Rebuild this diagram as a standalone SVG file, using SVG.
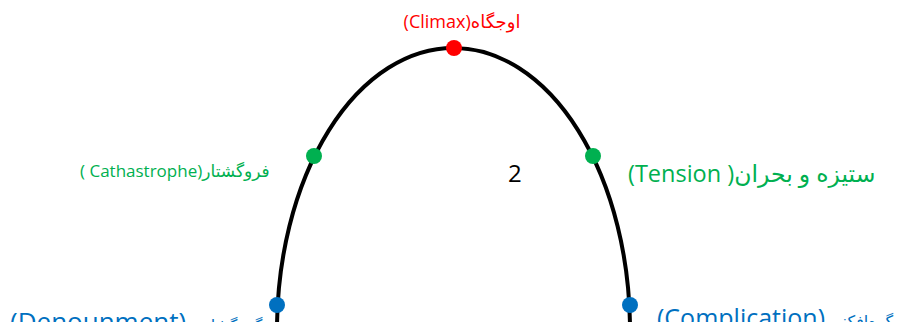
<svg xmlns="http://www.w3.org/2000/svg" width="905" height="322" viewBox="0 0 905 322">
<style>
text{font-family:"Open Sans","DejaVu Sans",sans-serif}
.g{fill:#00B050}.r{fill:#FF0000}.b{fill:#0070C0}
.curve{fill:none;stroke:#000;stroke-width:4}
</style>
<rect width="905" height="322" fill="#fff"/>
<g id="connectors">
<path class="curve" d="M277,330 A176.5,282 0 0 1 630,330"/>
</g>
<g id="climax">
<circle class="r" cx="454" cy="48" r="8"/>
<text class="r" x="462" y="28" font-size="18" text-anchor="middle">(Climax)اوجگاه</text>
</g>
<g id="catastrophe">
<circle class="g" cx="314" cy="156" r="8"/>
<text class="g" x="80" y="177" font-size="17">( Cathastrophe)فروگشتار</text>
</g>
<g id="tension">
<circle class="g" cx="593" cy="156" r="8"/>
<text class="g" x="628" y="182" font-size="23.5">(Tension )ستیزه و بحران</text>
</g>
<g id="label2">
<text x="508" y="182" font-size="24" fill="#000">2</text>
</g>
<g id="denouement">
<circle class="b" cx="277" cy="305" r="8"/>
<text class="b" x="10" y="331" font-size="26">(Denounment) <tspan font-size="16">گره‌گشایی</tspan></text>
</g>
<g id="complication">
<circle class="b" cx="630" cy="305" r="8"/>
<text class="b" x="657" y="327" font-size="25">(Complication)<tspan font-size="16"> گره‌افکنی</tspan></text>
</g>
</svg>
